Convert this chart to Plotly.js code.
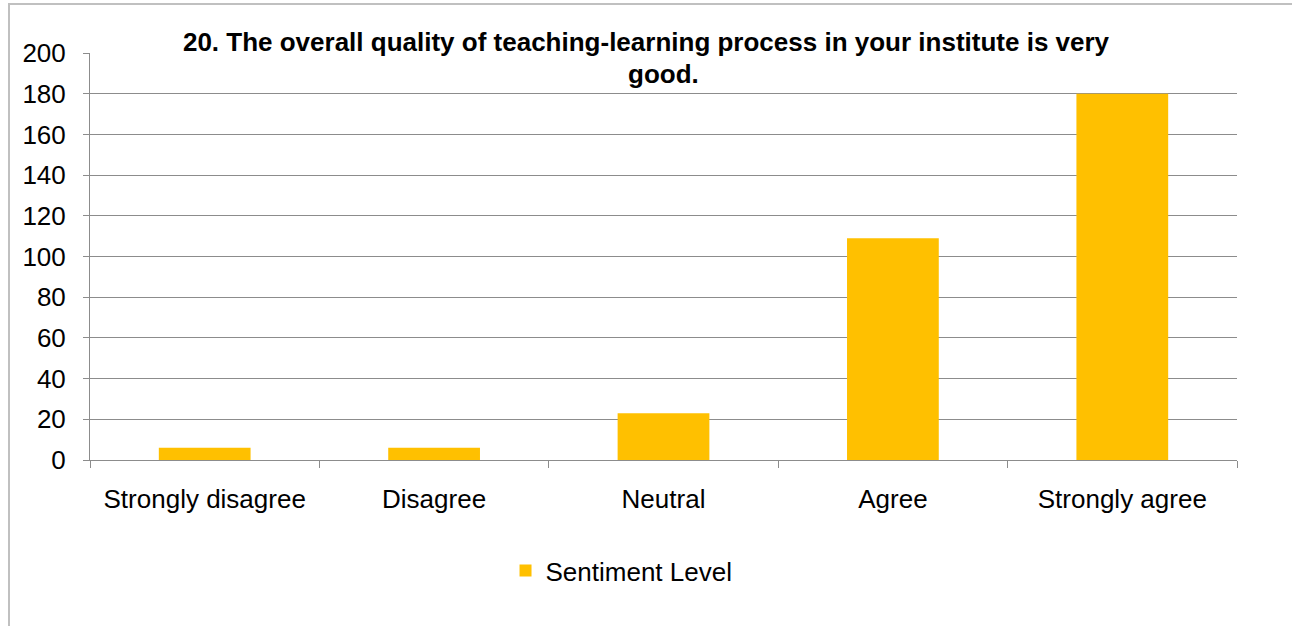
<!DOCTYPE html>
<html>
<head>
<meta charset="utf-8">
<script src="https://cdn.plot.ly/plotly-3.0.1.min.js"></script>
<style>
html,body{margin:0;padding:0;background:#fff;}
#chart{width:1292px;height:626px;position:relative;}
#frame{position:absolute;left:8px;top:3px;width:1300px;height:700px;border:2px solid #c0c0c0;pointer-events:none;box-sizing:border-box;}
</style>
</head>
<body>
<div id="chart"></div>
<div id="frame"></div>
<script>
const categories = ["Strongly disagree", "Disagree", "Neutral", "Agree", "Strongly agree"];
const sentimentValues = [6, 6, 23, 109, 180];
const seriesName = "Sentiment Level";
const yTicks = [0, 20, 40, 60, 80, 100, 120, 140, 160, 180, 200];
const titleLine1 = "20. The overall quality of teaching-learning process in your institute is very";
const titleLine2 = "good.";

const trace = {
  type: "bar",
  x: categories,
  y: sentimentValues,
  name: seriesName,
  marker: {color: "#FFC000"},
  showlegend: true
};

const layout = {
  width: 1292,
  height: 626,
  margin: {l: 90, r: 55, t: 53, b: 166},
  paper_bgcolor: "#ffffff",
  plot_bgcolor: "#ffffff",
  font: {family: "Liberation Sans, Arial, sans-serif", color: "#000", size: 21},
  title: {
    text: "<b>" + titleLine1 + "</b>",
    font: {size: 26, color: "#000"},
    x: 0.5, xanchor: "center", xref: "container",
    y: 1 - 51/626, yanchor: "bottom", yref: "container"
  },
  annotations: [{
    text: "<b>" + titleLine2 + "</b>",
    font: {size: 26, color: "#000"},
    xref: "paper", yref: "paper",
    x: 0.5, xanchor: "center",
    y: 1, yanchor: "top",
    yshift: -4,
    showarrow: false
  }],
  bargap: 0.6,
  xaxis: {
    type: "category",
    showline: true, linecolor: "#8c8c8c", linewidth: 1,
    ticks: "outside", tickson: "boundaries", ticklen: 7, tickcolor: "#8c8c8c",
    tickfont: {size: 26},
    ticklabelstandoff: 16,
    showgrid: false
  },
  yaxis: {
    range: [0, 200],
    tickvals: yTicks,
    showline: true, linecolor: "#8c8c8c", linewidth: 1,
    ticks: "outside", ticklen: 6, tickcolor: "#8c8c8c",
    ticklabelstandoff: 12,
    showgrid: true, gridcolor: "#8c8c8c", gridwidth: 1,
    zeroline: false,
    tickfont: {size: 26}
  },
  legend: {
    orientation: "h",
    x: 0.4634, xanchor: "center",
    y: -0.272, yanchor: "middle",
    itemwidth: 30,
    font: {size: 26}
  }
};

Plotly.newPlot("chart", [trace], layout, {displayModeBar: false, staticPlot: true});
</script>
</body>
</html>
